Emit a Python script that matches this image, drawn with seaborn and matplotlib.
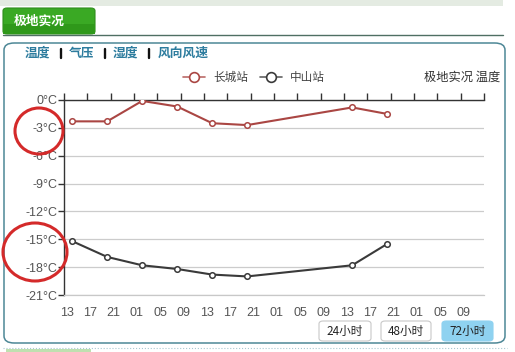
import numpy as np
import pandas as pd
import seaborn as sns
import matplotlib
matplotlib.use("Agg")
import matplotlib.pyplot as plt
from matplotlib.patches import FancyBboxPatch, Ellipse, Rectangle
from matplotlib.lines import Line2D
from matplotlib.transforms import ScaledTranslation

# ---- data ----
hours = [1.4, 7.4, 13.4, 19.4, 25.4, 31.4, 49.4, 55.4]
changcheng = [-2.3, -2.3, -0.1, -0.7, -2.5, -2.7, -0.8, -1.5]
zhongshan = [-15.2, -16.9, -17.8, -18.2, -18.8, -19.0, -17.8, -15.5]
tick_hours = list(range(0, 73, 4))
tick_labels = ["13", "17", "21", "01", "05", "09", "13", "17", "21",
               "01", "05", "09", "13", "17", "21", "01", "05", "09", ""]
y_ticks = [0, -3, -6, -9, -12, -15, -18, -21]
series_names = ["长城站", "中山站"]
nav_items = ["温度", "气压", "湿度", "风向风速"]
buttons = ["24小时", "48小时", "72小时"]

RED = "#AA4643"
DARK = "#3a3a3a"

sns.set_theme(style="white")
plt.rcParams["font.family"] = ["Noto Sans CJK SC", "DejaVu Sans"]

W, H = 515, 352
fig = plt.figure(figsize=(W / 100, H / 100), dpi=100)
fig.patch.set_facecolor("white")


def fx(px):
    return px / W


def fy(py):
    return 1 - py / H


# ---- page chrome ----
fig.add_artist(Rectangle((fx(0), fy(6)), fx(503), 6 / H, transform=fig.transFigure,
                         facecolor="#e4ebe2", edgecolor="none"))
tab = FancyBboxPatch((fx(3), fy(34)), fx(92), 26 / H, boxstyle="round,pad=0,rounding_size=0.008",
                     transform=fig.transFigure, facecolor="#3aa924", edgecolor="#2f8e1c", linewidth=0.8)
fig.add_artist(tab)
fig.add_artist(Rectangle((fx(3), fy(34)), fx(92), 10 / H, transform=fig.transFigure,
                         facecolor="#2f981a", edgecolor="none"))
fig.text(fx(14), fy(21), "极地实况", color="white", fontsize=9.2, fontweight="bold",
         va="center", ha="left")
fig.add_artist(Line2D([fx(3), fx(503)], [fy(34.5), fy(34.5)], transform=fig.transFigure,
                      color="#4f6f63", linewidth=1.0))

panel = FancyBboxPatch((fx(4), fy(343)), fx(501), 300 / H,
                       boxstyle="round,pad=0,rounding_size=0.02", transform=fig.transFigure,
                       facecolor="white", edgecolor="#4d8796", linewidth=1.1, zorder=0)
fig.add_artist(panel)
fig.add_artist(Line2D([fx(3), fx(507)], [fy(348), fy(348)], transform=fig.transFigure,
                      color="#a9c8d0", linewidth=0.8, linestyle=":"))
fig.add_artist(Rectangle((fx(6), fy(352)), fx(85), 3 / H, transform=fig.transFigure,
                         facecolor="#bfe0b0", edgecolor="none"))

# nav links
nav_x = [25, 69, 113, 158]
sep_x = [60.5, 104.5, 148.5]
for x, t in zip(nav_x, nav_items):
    fig.text(fx(x), fy(53), t, color="#2d7c9e", fontsize=9.2, fontweight="bold",
             va="center", ha="left")
for x in sep_x:
    fig.add_artist(Line2D([fx(x), fx(x)], [fy(49), fy(58)], transform=fig.transFigure,
                          color="#111111", linewidth=1.7))

# legend
for (cx, col, name) in [(194, RED, series_names[0]), (271, DARK, series_names[1])]:
    fig.add_artist(Line2D([fx(cx - 11), fx(cx + 11)], [fy(77), fy(77)], transform=fig.transFigure,
                          color=col, linewidth=1.2, alpha=0.8))
    fig.add_artist(Line2D([fx(cx)], [fy(77)], transform=fig.transFigure, marker="o",
                          markersize=7, markerfacecolor="white", markeredgecolor=col,
                          markeredgewidth=1.2, linestyle="none"))
    fig.text(fx(cx + 19), fy(77), name, color="#444444", fontsize=8.4, va="center", ha="left")
fig.text(fx(500), fy(77), "极地实况 温度", color="#333333", fontsize=8.8, va="center", ha="right")

# ---- chart ----
ax = fig.add_axes([fx(64), fy(295), fx(420), 195 / H])
ax.set_facecolor("none")
sns.lineplot(x=hours, y=changcheng, ax=ax, color=RED, linewidth=1.5, marker="o",
             markersize=4.0, markerfacecolor="white", markeredgecolor=RED,
             markeredgewidth=1.1, legend=False, zorder=4)
sns.lineplot(x=hours, y=zhongshan, ax=ax, color=DARK, linewidth=1.5, marker="o",
             markersize=4.0, markerfacecolor="white", markeredgecolor=DARK,
             markeredgewidth=1.1, legend=False, zorder=4)

ax.set_xlim(0, 72)
ax.set_ylim(-21, 0)
ax.set_yticks(y_ticks)
ax.set_yticklabels([f"{v}°C" for v in y_ticks])
ax.set_xticks(tick_hours)
ax.set_xticklabels(tick_labels)
ax.grid(axis="y", color="#cccccc", linewidth=0.9)
ax.grid(axis="x", visible=False)
ax.spines["right"].set_visible(False)
ax.spines["bottom"].set_color("#c8c8c8")
ax.spines["bottom"].set_linewidth(0.9)
ax.spines["left"].set_color("#333333")
ax.spines["left"].set_linewidth(1.0)
ax.spines["top"].set_color("#333333")
ax.spines["top"].set_linewidth(1.0)
ax.tick_params(axis="x", top=True, bottom=False, labeltop=False, labelbottom=True,
               direction="out", length=5, width=1.0, color="#333333", pad=4,
               labelsize=9, labelcolor="#555555")
ax.tick_params(axis="y", left=True, direction="out", length=4, width=1.0,
               color="#333333", pad=1, labelsize=9, labelcolor="#555555")
for lab in ax.get_xticklabels():
    lab.set_fontfamily(["Liberation Sans", "DejaVu Sans"])
    lab.set_transform(lab.get_transform() + ScaledTranslation(3 / 100, 0, fig.dpi_scale_trans))
for lab in ax.get_yticklabels():
    lab.set_fontfamily(["Liberation Sans", "DejaVu Sans"])
ax.set_xlabel("")
ax.set_ylabel("")

# ---- buttons ----
btn_x = [(319, 371), (381, 431), (442, 493)]
for (x0, x1), t in zip(btn_x, buttons):
    active = t == buttons[-1]
    b = FancyBboxPatch((fx(x0), fy(341)), fx(x1 - x0), 20 / H,
                       boxstyle="round,pad=0,rounding_size=0.008", transform=fig.transFigure,
                       facecolor="#8fd2f0" if active else "white",
                       edgecolor="#8fd2f0" if active else "#c8c8c8", linewidth=0.8)
    fig.add_artist(b)
    fig.text(fx((x0 + x1) / 2), fy(331), t, color="#222222", fontsize=8.4,
             va="center", ha="center")

# ---- hand-drawn red circles ----
for (cx, cy, w, h) in [(39, 131, 48, 46), (35, 252, 64, 58)]:
    fig.add_artist(Ellipse((fx(cx), fy(cy)), fx(w), h / H, transform=fig.transFigure,
                           facecolor="none", edgecolor="#d42a2a", linewidth=2.2, zorder=10))

fig.savefig("out.png", dpi=100)
